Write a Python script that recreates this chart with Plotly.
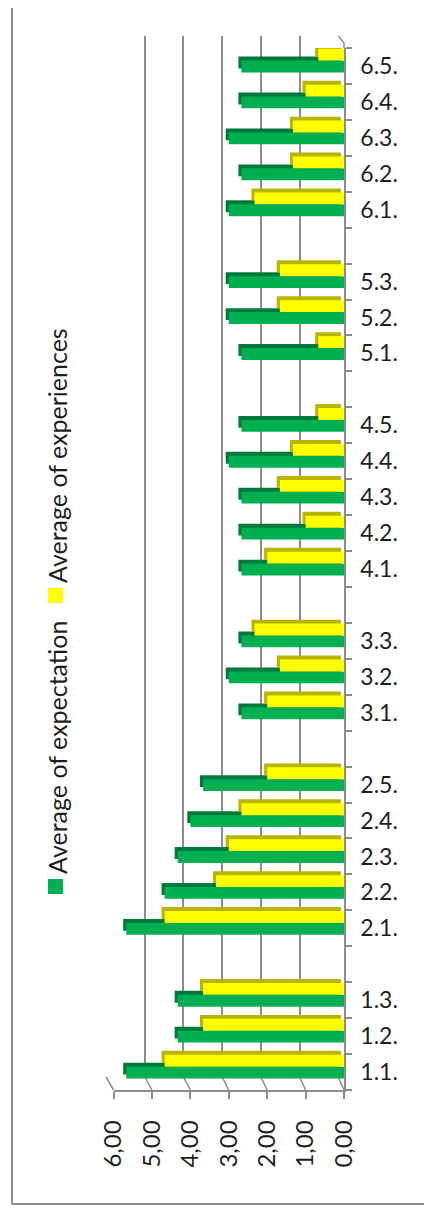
import plotly.graph_objects as go

# ---- data ----
categories = ["1.1.", "1.2.", "1.3.", " ",
              "2.1.", "2.2.", "2.3.", "2.4.", "2.5.", "  ",
              "3.1.", "3.2.", "3.3.", "   ",
              "4.1.", "4.2.", "4.3.", "4.4.", "4.5.", "    ",
              "5.1.", "5.2.", "5.3.", "     ",
              "6.1.", "6.2.", "6.3.", "6.4.", "6.5."]
expectation = [5.67, 4.33, 4.33, None,
               5.67, 4.67, 4.33, 4.00, 3.67, None,
               2.67, 3.00, 2.67, None,
               2.67, 2.67, 2.67, 3.00, 2.67, None,
               2.67, 3.00, 3.00, None,
               3.00, 2.67, 3.00, 2.67, 2.67]
experiences = [4.67, 3.67, 3.67, None,
               4.67, 3.33, 3.00, 2.67, 2.00, None,
               2.00, 1.67, 2.33, None,
               2.00, 1.00, 1.67, 1.33, 0.67, None,
               0.67, 1.67, 1.67, None,
               2.33, 1.33, 1.33, 1.00, 0.67]
series_names = ["Average of expectation", "Average of experiences"]
value_ticks = [0, 1, 2, 3, 4, 5, 6]

# ---- style ----
PAGE_OFF = 8               # default body margin of the html page
W, H = 432 - PAGE_OFF, 1218 - PAGE_OFF
FONT = "Lato"
TXT = "#1e1e1e"
GRID = "#8c8c8c"
GREEN, GREEN_DARK = "#00b050", "#00793a"
YELLOW, YELLOW_DARK = "#ffff00", "#b8b400"
DEPTH_DX = 0.08          # 3D depth shift along value axis
BAR_W = 0.33
DEPTH_DY = 0.11

# pixel geometry (page pixels) of the back wall and the front axes
WALL_X0, WALL_X1, WALL_TOP, WALL_BOT = 106, 338.3, 36, 1077
FRONT_X0, FRONT_X1, FRONT_TOP, FRONT_BOT = 113.6, 344, 48, 1090


def px(x):
    """page x pixel -> paper fraction"""
    return (x - PAGE_OFF) / W


def py(y):
    """page y pixel -> paper fraction"""
    return (H - (y - PAGE_OFF)) / H


fig = go.Figure()

# empty trace so the back-wall subplot is created
fig.add_trace(go.Scatter(x=[None], y=[None], xaxis="x", yaxis="y",
                         showlegend=False, hoverinfo="skip"))

bar_specs = [
    (expectation, GREEN_DARK, -0.18 + DEPTH_DY, DEPTH_DX),
    (expectation, GREEN, -0.18, 0),
    (experiences, YELLOW_DARK, 0.15 + DEPTH_DY, DEPTH_DX),
    (experiences, YELLOW, 0.15, 0),
]
for vals, col, off, base in bar_specs:
    fig.add_trace(go.Bar(
        y=categories, x=vals, orientation="h",
        base=base, offset=off, width=BAR_W,
        marker=dict(color=col, line=dict(width=0)),
        xaxis="x2", yaxis="y2", showlegend=False, hoverinfo="skip",
    ))

vmax = max(value_ticks)
fig.update_layout(
    template="none",
    width=W, height=H,
    margin=dict(l=0, r=0, t=0, b=0, pad=0, autoexpand=False),
    paper_bgcolor="white", plot_bgcolor="rgba(0,0,0,0)",
    barmode="overlay",
    separators=",.",
    showlegend=False,
    font=dict(family=FONT, color=TXT),
    # back wall (grid lines)
    xaxis=dict(domain=[px(WALL_X0), px(WALL_X1)], range=[vmax, 0],
               anchor="y", tickmode="array", tickvals=value_ticks,
               showticklabels=False, ticks="", showgrid=True,
               gridcolor=GRID, gridwidth=1.8,
               zeroline=False, showline=False, automargin=False),
    yaxis=dict(domain=[py(WALL_BOT), py(WALL_TOP)], range=[0, 1], anchor="x",
               showticklabels=False, ticks="", showgrid=False,
               zeroline=False, showline=False, automargin=False),
    # front bars
    xaxis2=dict(domain=[px(FRONT_X0), px(FRONT_X1)], range=[vmax, 0],
                anchor="y2", tickmode="array", tickvals=value_ticks,
                tickformat=".2f",
                tickangle=-90, ticks="outside", ticklen=7, tickwidth=1.5,
                tickcolor=GRID, showline=True, linecolor=GRID, linewidth=1.5,
                showgrid=False, zeroline=False, ticklabelstandoff=12,
                automargin=False,
                tickfont=dict(size=24, family=FONT, color=TXT)),
    yaxis2=dict(domain=[py(FRONT_BOT), py(FRONT_TOP)], anchor="x2",
                side="right",
                type="category", categoryorder="array",
                categoryarray=categories, range=[-0.5, len(categories) - 0.5],
                ticks="outside", tickson="boundaries", ticklen=6,
                tickwidth=1.5, tickcolor=GRID, showline=True, linecolor=GRID,
                linewidth=1.5, showgrid=False, zeroline=False,
                ticklabelstandoff=10, automargin=False,
                tickfont=dict(size=23, family=FONT, color=TXT)),
)

# 3D floor edges: from each back grid line down to the front tick
for v in value_ticks:
    xb = WALL_X1 - (WALL_X1 - WALL_X0) * v / vmax
    xf = FRONT_X1 - (FRONT_X1 - FRONT_X0) * v / vmax
    fig.add_shape(type="line", xref="paper", yref="paper", layer="below",
                  x0=px(xb), x1=px(xf), y0=py(WALL_BOT), y1=py(FRONT_BOT),
                  line=dict(color=GRID, width=1.5))
# top corner of the category axis
fig.add_shape(type="line", xref="paper", yref="paper", layer="below",
              x0=px(WALL_X1), x1=px(FRONT_X1), y0=py(WALL_TOP),
              y1=py(WALL_TOP + 7), line=dict(color=GRID, width=1.5))
fig.add_shape(type="line", xref="paper", yref="paper", layer="below",
              x0=px(FRONT_X1), x1=px(FRONT_X1), y0=py(WALL_TOP + 7),
              y1=py(FRONT_TOP), line=dict(color=GRID, width=1.5))

# legend (rotated, as in the reference)
legend_items = [
    (series_names[0], GREEN, 879, 748),
    (series_names[1], YELLOW, 588, 456),
]
for name, col, sq_top, text_center in legend_items:
    fig.add_shape(type="rect", xref="paper", yref="paper",
                  x0=px(48), x1=px(63), y0=py(sq_top + 15), y1=py(sq_top),
                  fillcolor=col, line=dict(width=0))
    fig.add_annotation(text=name, xref="paper", yref="paper",
                       x=px(57), y=py(text_center), textangle=-90,
                       showarrow=False, xanchor="center", yanchor="middle",
                       font=dict(size=25, family=FONT, color=TXT))

# chart frame
fig.add_shape(type="line", xref="paper", yref="paper",
              x0=px(12), x1=px(12), y0=py(0), y1=py(1204),
              line=dict(color=GRID, width=2))
fig.add_shape(type="line", xref="paper", yref="paper",
              x0=px(12), x1=px(440), y0=py(1204), y1=py(1204),
              line=dict(color=GRID, width=2))

fig.write_html("out.html")
